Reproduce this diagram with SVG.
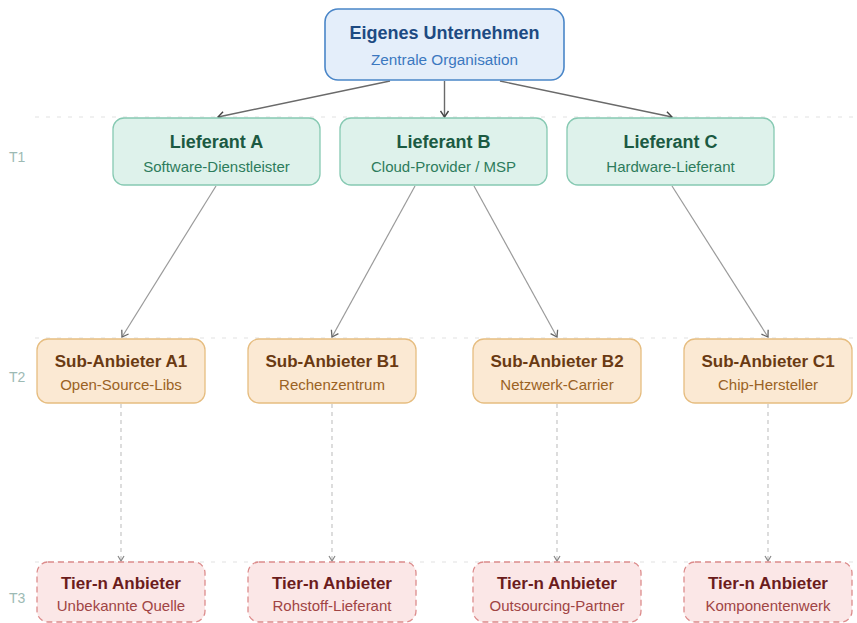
<svg xmlns="http://www.w3.org/2000/svg" width="857" height="623" viewBox="0 0 857 623">
<style>
text{font-family:"Liberation Sans",Arial,sans-serif;text-anchor:middle}
.tier{stroke:#e2e2e2;stroke-width:1.2;stroke-dasharray:4 7;fill:none}
.tl{font-size:14px;fill:#9dbab4;text-anchor:start}
.t{font-size:17px;font-weight:bold}
.s{font-size:15px}
.n0 rect{fill:#e4eefa;stroke:#4a86c8;stroke-width:1.6}
.n0 .t{fill:#1d4a82;font-size:18px}
.n0 .s{fill:#3b78c0;font-size:15.3px}
.n1 rect{fill:#def2eb;stroke:#86c9b2;stroke-width:1.3}
.n1 .t{fill:#1b5a42;font-size:18px}
.n1 .s{fill:#2d7c5c}
.n2 rect{fill:#fbe9d3;stroke:#e6bd80;stroke-width:1.3}
.n2 .t{fill:#6a3a12}
.n2 .s{fill:#9a6224}
.n3 rect{fill:#fbe7e7;stroke:#dc8c8c;stroke-width:1.3;stroke-dasharray:6 4}
.n3 .t{fill:#6b1c1c}
.n3 .s{fill:#a04444}
.c{stroke:#9a9a9a;stroke-width:1.2;fill:none;marker-end:url(#ah)}
.c0{stroke:#6a6a6a;stroke-width:1.4;fill:none;marker-end:url(#ah0)}
.cd{stroke:#c6c6c6;stroke-width:1.2;fill:none;stroke-dasharray:4 4;marker-end:url(#ahd)}
</style>
<defs>
<marker id="ah0" markerWidth="10" markerHeight="10" refX="8" refY="5" orient="auto" markerUnits="userSpaceOnUse"><path d="M2,1 L8,5 L2,9" fill="none" stroke="#444" stroke-width="1.4"/></marker>
<marker id="ah" markerWidth="10" markerHeight="10" refX="8" refY="5" orient="auto" markerUnits="userSpaceOnUse"><path d="M2,1 L8,5 L2,9" fill="none" stroke="#666" stroke-width="1.3"/></marker>
<marker id="ahd" markerWidth="10" markerHeight="10" refX="8" refY="5" orient="auto" markerUnits="userSpaceOnUse"><path d="M3,2 L8,5 L3,8" fill="none" stroke="#888" stroke-width="1.2"/></marker>
</defs>
<rect width="857" height="623" fill="#ffffff"/>
<g id="tiers">
<line class="tier" x1="35" y1="117" x2="857" y2="117"/>
<line class="tier" x1="35" y1="338" x2="857" y2="338"/>
<line class="tier" x1="35" y1="562" x2="857" y2="562"/>
<text class="tl" x="9" y="162">T1</text>
<text class="tl" x="9" y="382">T2</text>
<text class="tl" x="9" y="603">T3</text>
</g>
<g id="connectors">
<line class="c0" x1="390" y1="81" x2="218" y2="117"/>
<line class="c0" x1="444.5" y1="81" x2="444.5" y2="117"/>
<line class="c0" x1="500" y1="81" x2="672" y2="117"/>
<line class="c" x1="216" y1="186" x2="122" y2="337"/>
<line class="c" x1="415" y1="186" x2="332" y2="337"/>
<line class="c" x1="474" y1="186" x2="557" y2="337"/>
<line class="c" x1="672" y1="186" x2="768" y2="337"/>
<line class="cd" x1="121" y1="404" x2="121" y2="561"/>
<line class="cd" x1="332" y1="404" x2="332" y2="561"/>
<line class="cd" x1="557" y1="404" x2="557" y2="561"/>
<line class="cd" x1="768" y1="404" x2="768" y2="561"/>
</g>
<g id="n-root" class="n0"><rect x="325" y="9" width="239" height="71" rx="13"/><text class="t" x="444.5" y="39">Eigenes Unternehmen</text><text class="s" x="444.5" y="65">Zentrale Organisation</text></g>
<g id="n-a" class="n1"><rect x="113" y="118" width="207" height="67" rx="11"/><text class="t" x="216.5" y="148">Lieferant A</text><text class="s" x="216.5" y="172">Software-Dienstleister</text></g>
<g id="n-b" class="n1"><rect x="340" y="118" width="207" height="67" rx="11"/><text class="t" x="443.5" y="148">Lieferant B</text><text class="s" x="443.5" y="172">Cloud-Provider / MSP</text></g>
<g id="n-c" class="n1"><rect x="567" y="118" width="207" height="67" rx="11"/><text class="t" x="670.5" y="148">Lieferant C</text><text class="s" x="670.5" y="172">Hardware-Lieferant</text></g>
<g id="n-a1" class="n2"><rect x="37" y="339" width="168" height="64" rx="11"/><text class="t" x="121" y="367">Sub-Anbieter A1</text><text class="s" x="121" y="390">Open-Source-Libs</text></g>
<g id="n-b1" class="n2"><rect x="248" y="339" width="168" height="64" rx="11"/><text class="t" x="332" y="367">Sub-Anbieter B1</text><text class="s" x="332" y="390">Rechenzentrum</text></g>
<g id="n-b2" class="n2"><rect x="473" y="339" width="168" height="64" rx="11"/><text class="t" x="557" y="367">Sub-Anbieter B2</text><text class="s" x="557" y="390">Netzwerk-Carrier</text></g>
<g id="n-c1" class="n2"><rect x="684" y="339" width="168" height="64" rx="11"/><text class="t" x="768" y="367">Sub-Anbieter C1</text><text class="s" x="768" y="390">Chip-Hersteller</text></g>
<g id="n-t1" class="n3"><rect x="37" y="562" width="168" height="60" rx="11"/><text class="t" x="121" y="589">Tier-n Anbieter</text><text class="s" x="121" y="611">Unbekannte Quelle</text></g>
<g id="n-t2" class="n3"><rect x="248" y="562" width="168" height="60" rx="11"/><text class="t" x="332" y="589">Tier-n Anbieter</text><text class="s" x="332" y="611">Rohstoff-Lieferant</text></g>
<g id="n-t3" class="n3"><rect x="473" y="562" width="168" height="60" rx="11"/><text class="t" x="557" y="589">Tier-n Anbieter</text><text class="s" x="557" y="611">Outsourcing-Partner</text></g>
<g id="n-t4" class="n3"><rect x="684" y="562" width="168" height="60" rx="11"/><text class="t" x="768" y="589">Tier-n Anbieter</text><text class="s" x="768" y="611">Komponentenwerk</text></g>
</svg>
